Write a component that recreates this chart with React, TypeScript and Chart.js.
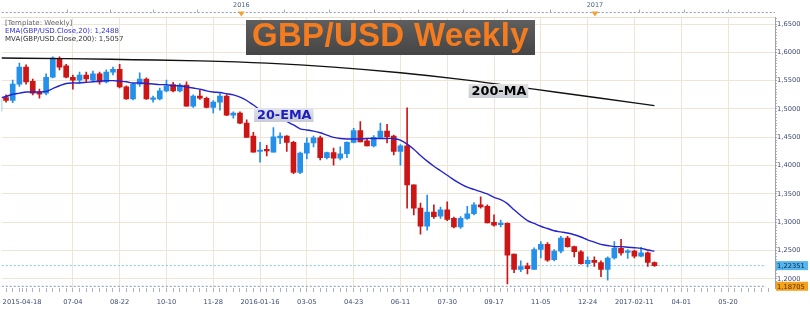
import React, { useEffect, useRef } from 'react';
import { Chart, registerables } from 'chart.js';

Chart.register(...registerables);

// ---------- data (weekly candles, week index 0 = 2015-04-18) ----------
const opens = [
  1.496, 1.520, 1.515, 1.544, 1.574, 1.549, 1.530, 1.528, 1.556, 1.588,
  1.576, 1.556, 1.551, 1.560, 1.551, 1.562, 1.548, 1.565, 1.570, 1.539,
  1.518, 1.544, 1.553, 1.517, 1.518, 1.532, 1.543, 1.532, 1.542, 1.505,
  1.523, 1.519, 1.503, 1.512, 1.523, 1.489, 1.493, 1.475, 1.452, 1.425,
  1.428, 1.424, 1.449, 1.452, 1.441, 1.388, 1.422, 1.440, 1.449, 1.414,
  1.423, 1.413, 1.421, 1.441, 1.462, 1.444, 1.435, 1.450, 1.461, 1.452,
  1.425, 1.435, 1.366, 1.325, 1.293, 1.318, 1.311, 1.322, 1.307, 1.292,
  1.307, 1.315, 1.331, 1.328, 1.300, 1.296, 1.298, 1.244, 1.217, 1.223,
  1.217, 1.252, 1.261, 1.234, 1.249, 1.272, 1.257, 1.248, 1.227, 1.233,
  1.229, 1.217, 1.237, 1.254, 1.247, 1.249, 1.240, 1.246, 1.229,
];
const highs = [
  1.519, 1.525, 1.551, 1.581, 1.578, 1.553, 1.535, 1.562, 1.592, 1.592,
  1.579, 1.560, 1.565, 1.565, 1.567, 1.565, 1.569, 1.574, 1.579, 1.541,
  1.545, 1.564, 1.555, 1.523, 1.537, 1.551, 1.547, 1.545, 1.548, 1.525,
  1.534, 1.521, 1.515, 1.527, 1.525, 1.495, 1.495, 1.481, 1.459, 1.441,
  1.436, 1.467, 1.458, 1.453, 1.443, 1.424, 1.449, 1.452, 1.452, 1.424,
  1.431, 1.433, 1.442, 1.466, 1.478, 1.448, 1.453, 1.475, 1.473, 1.454,
  1.437, 1.502, 1.366, 1.334, 1.348, 1.331, 1.327, 1.336, 1.309, 1.310,
  1.328, 1.335, 1.345, 1.331, 1.313, 1.304, 1.299, 1.244, 1.232, 1.228,
  1.255, 1.266, 1.264, 1.252, 1.275, 1.275, 1.258, 1.250, 1.239, 1.239,
  1.232, 1.239, 1.266, 1.270, 1.252, 1.251, 1.256, 1.248, 1.230,
];
const lows = [
  1.490, 1.512, 1.511, 1.540, 1.544, 1.525, 1.519, 1.525, 1.555, 1.569,
  1.555, 1.535, 1.546, 1.548, 1.548, 1.544, 1.546, 1.560, 1.537, 1.517,
  1.516, 1.540, 1.517, 1.512, 1.516, 1.530, 1.530, 1.530, 1.505, 1.503,
  1.517, 1.502, 1.493, 1.498, 1.488, 1.484, 1.474, 1.450, 1.424, 1.406,
  1.417, 1.424, 1.439, 1.425, 1.386, 1.386, 1.412, 1.433, 1.410, 1.412,
  1.401, 1.410, 1.414, 1.440, 1.442, 1.435, 1.433, 1.449, 1.440, 1.419,
  1.401, 1.325, 1.313, 1.279, 1.286, 1.307, 1.307, 1.303, 1.290, 1.289,
  1.305, 1.313, 1.325, 1.299, 1.293, 1.292, 1.191, 1.211, 1.213, 1.209,
  1.217, 1.237, 1.231, 1.232, 1.246, 1.256, 1.239, 1.226, 1.221, 1.222,
  1.204, 1.198, 1.235, 1.242, 1.236, 1.237, 1.239, 1.222, 1.222,
];
const closes = [
  1.516, 1.515, 1.544, 1.574, 1.548, 1.528, 1.526, 1.556, 1.590, 1.574,
  1.556, 1.551, 1.560, 1.553, 1.562, 1.548, 1.565, 1.570, 1.539, 1.518,
  1.544, 1.553, 1.518, 1.519, 1.532, 1.541, 1.532, 1.542, 1.505, 1.523,
  1.519, 1.503, 1.512, 1.523, 1.489, 1.493, 1.475, 1.450, 1.424, 1.427,
  1.426, 1.451, 1.452, 1.441, 1.388, 1.422, 1.440, 1.449, 1.414, 1.423,
  1.413, 1.421, 1.441, 1.462, 1.442, 1.435, 1.450, 1.461, 1.451, 1.425,
  1.435, 1.366, 1.325, 1.293, 1.318, 1.310, 1.322, 1.305, 1.292, 1.307,
  1.315, 1.331, 1.327, 1.299, 1.295, 1.298, 1.242, 1.217, 1.222, 1.218,
  1.252, 1.261, 1.233, 1.249, 1.272, 1.257, 1.248, 1.227, 1.233, 1.229,
  1.217, 1.237, 1.254, 1.246, 1.249, 1.240, 1.246, 1.229, 1.2235,
];
const ema20 = [
  1.519, 1.522, 1.526, 1.528, 1.530, 1.530, 1.530, 1.531, 1.536, 1.541,
  1.545, 1.546, 1.546, 1.547, 1.548, 1.549, 1.550, 1.550, 1.549, 1.548,
  1.546, 1.546, 1.545, 1.544, 1.543, 1.543, 1.541, 1.541, 1.539, 1.537,
  1.535, 1.532, 1.530, 1.529, 1.527, 1.525, 1.521, 1.515, 1.507, 1.499,
  1.493, 1.488, 1.484, 1.478, 1.472, 1.465, 1.463, 1.461, 1.458, 1.454,
  1.450, 1.448, 1.447, 1.447, 1.447, 1.448, 1.448, 1.448, 1.448, 1.448,
  1.445, 1.438, 1.429, 1.418, 1.408, 1.399, 1.391, 1.383, 1.375, 1.368,
  1.362, 1.358, 1.354, 1.350, 1.344, 1.340, 1.333, 1.322, 1.312, 1.303,
  1.298, 1.293, 1.289, 1.285, 1.283, 1.281, 1.278, 1.274, 1.269, 1.265,
  1.261, 1.259, 1.257, 1.257, 1.256, 1.255, 1.254, 1.251, 1.249,
];
const maWeeks = [0, 10, 20, 30, 40, 50, 60, 70, 80, 90, 98];
const ma200 = [1.590, 1.589, 1.587, 1.585, 1.581, 1.574, 1.564, 1.551, 1.535, 1.519, 1.506];

const lastPrice = 1.22351;
const lowPrice = 1.18705;

const xLabelWeeks = [3.4, 11, 18, 25, 32, 39, 46, 53, 60, 67, 74, 81, 88, 95, 102, 109];
const xLabelTexts = ['2015-04-18', '07-04', '08-22', '10-10', '11-28', '2016-01-16', '03-05', '04-23',
  '06-11', '07-30', '09-17', '11-05', '12-24', '2017-02-11', '04-01', '05-20'];
const yearWeeks = [36.2, 89.1];
const yearLabels = ['2016', '2017'];
const topTickWeeks = [10.1, 16.5, 23.0, 29.5, 42.6, 49.3, 56.0, 62.7, 69.3, 76.0, 82.4, 95.7, 102.4, 109.0];
const yLabelValues = [1.20, 1.25, 1.30, 1.35, 1.40, 1.45, 1.50, 1.55, 1.60, 1.65];

const emaTag = { text: '20-EMA', week: 38.1, value: 1.4894 };
const maTag = { text: '200-MA', week: 70.2, value: 1.5318 };

// ---------- view settings ----------
const X_MIN = 0.36;
const X_MAX = 116.03;
const PRICE_LINE_END = 114.7;
const Y_MIN = 1.184;
const Y_MAX = 1.6624;

const BLUE = '#2490ea';
const RED = '#cc1616';
const GRID = '#efe5d6';
const AXIS_TEXT = '#3d4a72';
const FONT = '"DejaVu Sans", Verdana, sans-serif';

const weeks = opens.map((_, i) => i);
const candleColor = (i: number) => (closes[i] >= opens[i] ? BLUE : RED);

function drawTag(ctx: CanvasRenderingContext2D, text: string, left: number, cy: number, color: string, bg: string) {
  ctx.font = `bold 12.8px ${FONT}`;
  const w = ctx.measureText(text).width;
  const g = ctx.createLinearGradient(0, cy - 7, 0, cy + 7);
  g.addColorStop(0, bg);
  g.addColorStop(1, '#c9ccd4');
  ctx.fillStyle = g;
  ctx.fillRect(left, cy - 7, w + 5, 14);
  ctx.fillStyle = color;
  ctx.textAlign = 'left';
  ctx.textBaseline = 'middle';
  ctx.fillText(text, left + 3, cy + 0.5);
}

function priceBox(ctx: CanvasRenderingContext2D, text: string, left: number, right: number, cy: number, bg: string, fg: string) {
  ctx.fillStyle = bg;
  ctx.fillRect(left, cy - 4.5, right - left, 9);
  ctx.fillStyle = fg;
  ctx.font = `6.7px ${FONT}`;
  ctx.textAlign = 'left';
  ctx.textBaseline = 'middle';
  ctx.fillText(text, left + 1, cy + 0.5);
}

const overlayPlugin = {
  id: 'overlayPlugin',
  afterDraw(chart: any) {
    const { ctx, chartArea, scales } = chart;
    const xs = scales.x;
    const ys = scales.y;
    const top = scales.xTop;
    ctx.save();
    // dashed line of the top date strip
    const ly = Math.round(top.bottom - 5) + 0.5;
    ctx.strokeStyle = '#8f9ab4';
    ctx.lineWidth = 1;
    ctx.setLineDash([2, 2]);
    ctx.beginPath();
    ctx.moveTo(chartArea.left, ly);
    ctx.lineTo(chartArea.right, ly);
    ctx.stroke();
    ctx.setLineDash([]);
    // small ticks on the strip
    ctx.strokeStyle = '#a4acbe';
    topTickWeeks.forEach((w) => {
      const px = Math.round(top.getPixelForValue(w)) + 0.5;
      ctx.beginPath();
      ctx.moveTo(px, ly - 3);
      ctx.lineTo(px, ly);
      ctx.stroke();
    });
    // year markers and labels
    ctx.font = `6.5px ${FONT}`;
    ctx.textAlign = 'center';
    ctx.textBaseline = 'middle';
    yearWeeks.forEach((w, i) => {
      const px = top.getPixelForValue(w);
      ctx.fillStyle = '#f0a23a';
      ctx.beginPath();
      ctx.moveTo(px - 3.5, ly - 1);
      ctx.lineTo(px + 3.5, ly - 1);
      ctx.lineTo(px, ly + 4);
      ctx.closePath();
      ctx.fill();
      ctx.fillStyle = '#4a6488';
      ctx.fillText(yearLabels[i], px, ly - 7);
    });
    // line tags
    drawTag(ctx, emaTag.text, xs.getPixelForValue(emaTag.week), ys.getPixelForValue(emaTag.value), '#1c1cc4', '#e2e5ee');
    drawTag(ctx, maTag.text, xs.getPixelForValue(maTag.week), ys.getPixelForValue(maTag.value), '#000000', '#e2e2e2');
    // price tags on the right axis
    const fmt5 = (v: number) => v.toFixed(5).replace('.', ',');
    priceBox(ctx, fmt5(lastPrice), chartArea.right + 1, chart.width - 2, ys.getPixelForValue(lastPrice), '#55b6ee', '#0d2744');
    priceBox(ctx, fmt5(lowPrice), chartArea.right + 1, chart.width - 2, ys.getPixelForValue(lowPrice), '#f2a21c', '#5a2a00');
    ctx.restore();
  },
};

export default function App() {
  const ref = useRef<HTMLCanvasElement | null>(null);

  useEffect(() => {
    if (!ref.current) return;
    const isMajorY = (v: number) => Math.abs(v * 20 - Math.round(v * 20)) < 1e-6;

    const chart = new Chart(ref.current, {
      type: 'bar',
      data: {
        datasets: [
          {
            type: 'line',
            label: 'MVA 200',
            data: maWeeks.map((w, i) => ({ x: w, y: ma200[i] })),
            borderColor: '#111111',
            borderWidth: 1.4,
            pointRadius: 0,
            cubicInterpolationMode: 'monotone',
            order: -2,
          } as any,
          {
            type: 'line',
            label: 'EMA 20',
            data: weeks.map((w) => ({ x: w, y: ema20[w] })),
            borderColor: '#2424cc',
            borderWidth: 1.4,
            pointRadius: 0,
            tension: 0.3,
            order: -1,
          } as any,
          {
            label: 'bodies',
            data: weeks.map((w) => ({ x: w, y: [opens[w], closes[w]] })),
            backgroundColor: (c: any) => candleColor(c.dataIndex),
            barThickness: 5,
            minBarLength: 1.5,
            grouped: false,
            borderSkipped: false,
            order: 1,
          } as any,
          {
            label: 'wicks',
            data: weeks.map((w) => ({ x: w, y: [lows[w], highs[w]] })),
            backgroundColor: (c: any) => candleColor(c.dataIndex),
            barThickness: 1,
            grouped: false,
            borderSkipped: false,
            order: 2,
          } as any,
          {
            type: 'line',
            label: 'last',
            data: [{ x: X_MIN, y: lastPrice }, { x: PRICE_LINE_END, y: lastPrice }],
            borderColor: '#86c2ea',
            borderWidth: 1,
            borderDash: [2, 2],
            pointRadius: 0,
            order: 5,
          } as any,
          {
            type: 'line',
            label: 'low',
            data: [{ x: X_MIN, y: lowPrice }, { x: PRICE_LINE_END, y: lowPrice }],
            borderColor: '#7f8fb2',
            borderWidth: 1,
            borderDash: [2, 2],
            pointRadius: 0,
            order: 5,
          } as any,
        ],
      },
      options: {
        responsive: false,
        animation: false,
        devicePixelRatio: 1,
        layout: { padding: 0 },
        plugins: { legend: { display: false }, tooltip: { enabled: false } },
        scales: {
          x: {
            type: 'linear',
            position: 'bottom',
            min: X_MIN,
            max: X_MAX,
            offset: false,
            afterBuildTicks: (s: any) => {
              const vals: number[] = [];
              for (let w = 1; w <= 115; w++) vals.push(w);
              xLabelWeeks.forEach((v) => { if (!vals.includes(v)) vals.push(v); });
              vals.sort((a, b) => a - b);
              s.ticks = vals.map((v) => ({ value: v }));
            },
            afterFit: (s: any) => { s.height = 22; },
            ticks: {
              autoSkip: false,
              maxRotation: 0,
              minRotation: 0,
              padding: 6,
              color: AXIS_TEXT,
              font: { size: 6.7, family: FONT },
              callback: (v: any) => {
                const i = xLabelWeeks.indexOf(Number(v));
                return i >= 0 ? xLabelTexts[i] : '';
              },
            },
            grid: {
              offset: false,
              color: (c: any) => (c.tick && xLabelWeeks.indexOf(c.tick.value) > 0 ? GRID : 'rgba(0,0,0,0)'),
              tickColor: '#aab2c4',
              tickLength: 4,
              lineWidth: 1,
            },
            border: { display: false },
          },
          xTop: {
            type: 'linear',
            axis: 'x',
            position: 'top',
            min: X_MIN,
            max: X_MAX,
            offset: false,
            afterBuildTicks: (s: any) => { s.ticks = yearWeeks.map((v) => ({ value: v })); },
            afterFit: (s: any) => { s.height = 17; },
            ticks: { display: false },
            grid: { display: false, drawOnChartArea: false },
            border: { display: true, color: '#eadfcc', width: 1 },
          },
          y: {
            type: 'linear',
            position: 'right',
            min: Y_MIN,
            max: Y_MAX,
            afterBuildTicks: (s: any) => {
              const t: { value: number }[] = [];
              for (let i = Math.ceil(Y_MIN / 0.005); i * 0.005 <= Y_MAX; i++) t.push({ value: +(i * 0.005).toFixed(3) });
              s.ticks = t;
            },
            afterFit: (s: any) => { s.width = 35; },
            ticks: {
              autoSkip: false,
              padding: 0,
              color: AXIS_TEXT,
              font: { size: 6.7, family: FONT },
              callback: (v: any) => {
                const n = Number(v);
                return yLabelValues.some((l) => Math.abs(l - n) < 1e-6) && isMajorY(n) ? n.toFixed(4).replace('.', ',') : '';
              },
            },
            grid: {
              color: (c: any) => (c.tick && isMajorY(c.tick.value) ? GRID : 'rgba(0,0,0,0)'),
              tickColor: '#a9b1c2',
              tickLength: 2,
            },
            border: { display: true, color: '#9aa2b4' },
          },
        },
      } as any,
      plugins: [overlayPlugin],
    });
    return () => chart.destroy();
  }, []);

  return (
    <div style={{ position: 'fixed', left: 0, top: 0, width: 810, height: 310, background: '#ffffff', overflow: 'hidden' }}>
      <canvas ref={ref} width={810} height={310} style={{ position: 'absolute', left: 0, top: 0, width: 810, height: 310 }} />
      <div
        style={{
          position: 'absolute', left: 5, top: 19, font: `7px ${FONT}`, lineHeight: '8px', whiteSpace: 'nowrap',
        }}
      >
        <div style={{ color: '#666666' }}>[Template: Weekly]</div>
        <div style={{ color: '#3030cc' }}>EMA(GBP/USD.Close,20): 1,2488</div>
        <div style={{ color: '#333333' }}>MVA(GBP/USD.Close,200): 1,5057</div>
      </div>
      <div
        style={{
          position: 'absolute', left: 246, top: 20, width: 289, height: 35,
          background: 'linear-gradient(to bottom, #5e5e5e, #454545)',
          color: '#f57b1f', font: 'bold 33px "Liberation Sans", Arial, sans-serif', lineHeight: '30px',
          paddingLeft: 6, boxSizing: 'border-box', whiteSpace: 'nowrap', letterSpacing: '0.3px',
        }}
      >
        GBP/USD Weekly
      </div>
    </div>
  );
}
